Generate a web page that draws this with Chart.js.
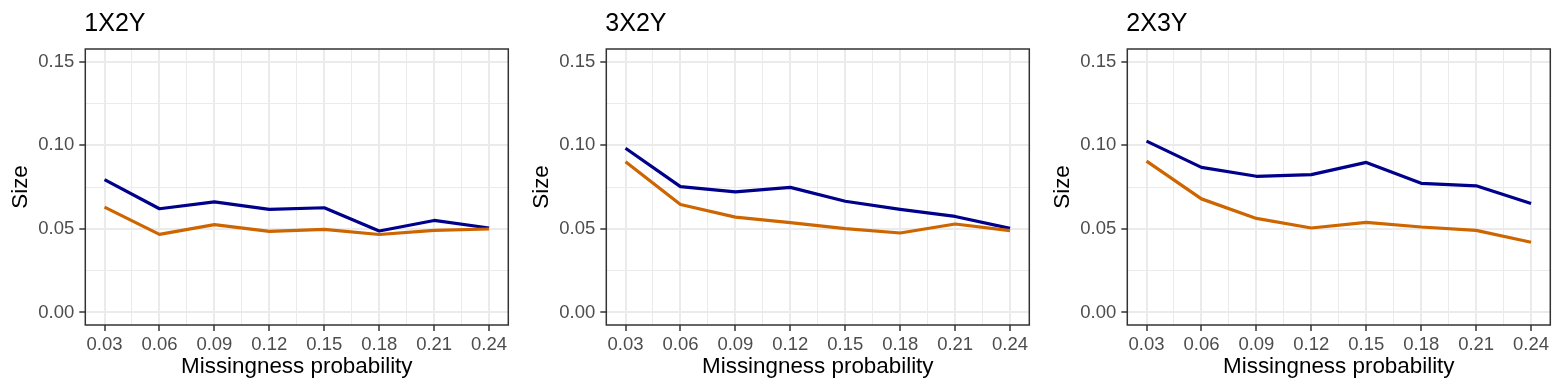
<!DOCTYPE html>
<html>
<head>
<meta charset="utf-8">
<script src="https://cdn.jsdelivr.net/npm/chart.js@4.4.1/dist/chart.umd.min.js"></script>
<style>
  body { margin: 0; background: #fff; width: 1563px; height: 392px; overflow: hidden; position: relative; }
  canvas.panel { position: absolute; top: 0; }
</style>
</head>
<body>
<canvas id="panel1" class="panel" width="521" height="392" style="left:0px"></canvas>
<canvas id="panel2" class="panel" width="521" height="392" style="left:521px"></canvas>
<canvas id="panel3" class="panel" width="521" height="392" style="left:1042px"></canvas>
<script>
const probs = [0.03, 0.06, 0.09, 0.12, 0.15, 0.18, 0.21, 0.24];
const xMinorTicks = [0.045, 0.075, 0.105, 0.135, 0.165, 0.195, 0.225];
const yMajorTicks = [0, 0.05, 0.10, 0.15];
const yMinorTicks = [0.025, 0.075, 0.125];
const panelTitles = ['1X2Y', '3X2Y', '2X3Y'];

// blue line (upper) per panel
const blue1X2Y = [0.0794, 0.0620, 0.0661, 0.0616, 0.0626, 0.0487, 0.0550, 0.0505];
const blue3X2Y = [0.0982, 0.0752, 0.0721, 0.0748, 0.0665, 0.0616, 0.0574, 0.0503];
const blue2X3Y = [0.1024, 0.0867, 0.0814, 0.0824, 0.0897, 0.0772, 0.0757, 0.0651];
// orange line (lower) per panel
const orange1X2Y = [0.0630, 0.0467, 0.0525, 0.0485, 0.0497, 0.0466, 0.0491, 0.0499];
const orange3X2Y = [0.0901, 0.0645, 0.0570, 0.0537, 0.0501, 0.0475, 0.0529, 0.0489];
const orange2X3Y = [0.0905, 0.0679, 0.0562, 0.0505, 0.0539, 0.0511, 0.0491, 0.0420];

const BLUE = '#00008B';
const ORANGE = '#CD6600';
const FONT = '"Liberation Sans", Arial, Helvetica, sans-serif';

function makeTicks(major, minor) {
  return major.map(v => ({ value: v, isMinor: false }))
    .concat(minor.map(v => ({ value: v, isMinor: true })))
    .sort((a, b) => a.value - b.value);
}

const isMinor = c => !!(c.tick && c.tick.isMinor);

const gridOpts = {
  color: '#EBEBEB',
  lineWidth: c => isMinor(c) ? 1 : 2,
  tickColor: c => isMinor(c) ? 'rgba(0,0,0,0)' : '#333333',
  tickWidth: c => isMinor(c) ? 0 : 1.5,
  tickLength: 6
};

const panelDecor = {
  id: 'panelDecor',
  afterDraw(chart, args, opts) {
    const { ctx, chartArea } = chart;
    ctx.save();
    ctx.strokeStyle = '#333333';
    ctx.lineWidth = 1.5;
    ctx.strokeRect(chartArea.left, chartArea.top, chartArea.right - chartArea.left, chartArea.bottom - chartArea.top);
    ctx.fillStyle = '#000';
    ctx.font = '25px ' + FONT;
    ctx.textBaseline = 'alphabetic';
    ctx.fillText(opts.text, chartArea.left - 1, 31);
    ctx.restore();
  }
};

function drawPanel(id, title, blue, orange) {
  const toPoints = arr => arr.map((v, i) => ({ x: probs[i], y: v }));
  new Chart(document.getElementById(id), {
    type: 'line',
    data: {
      datasets: [
        { label: 'orange', data: toPoints(orange), borderColor: ORANGE, borderWidth: 3.2 },
        { label: 'blue', data: toPoints(blue), borderColor: BLUE, borderWidth: 3.2 }
      ]
    },
    plugins: [panelDecor],
    options: {
      responsive: false,
      animation: false,
      elements: { point: { radius: 0 }, line: { tension: 0, borderCapStyle: 'butt', borderJoinStyle: 'round' } },
      layout: { padding: { top: 49, right: 12.7, left: 0, bottom: 0 } },
      plugins: {
        legend: { display: false },
        tooltip: { enabled: false },
        panelDecor: { text: title }
      },
      scales: {
        x: {
          type: 'linear',
          min: 0.0195,
          max: 0.2505,
          afterBuildTicks: s => { s.ticks = makeTicks(probs, xMinorTicks); },
          afterFit: s => { s.height = 67; },
          grid: gridOpts,
          border: { display: false },
          ticks: {
            autoSkip: false,
            maxRotation: 0,
            padding: 3,
            color: '#4D4D4D',
            font: { family: FONT, size: 18.5 },
            callback: (v, i, ticks) => ticks[i].isMinor ? '' : v.toFixed(2)
          },
          title: {
            display: true,
            text: 'Missingness probability',
            color: '#000',
            font: { family: FONT, size: 22.4 },
            padding: { top: 0, bottom: 12 }
          }
        },
        y: {
          min: -0.0075,
          max: 0.1575,
          afterBuildTicks: s => { s.ticks = makeTicks(yMajorTicks, yMinorTicks); },
          afterFit: s => { s.width = 85.3; },
          grid: gridOpts,
          border: { display: false },
          ticks: {
            autoSkip: false,
            padding: 5,
            color: '#4D4D4D',
            font: { family: FONT, size: 18.5 },
            callback: (v, i, ticks) => ticks[i].isMinor ? '' : v.toFixed(2)
          },
          title: {
            display: true,
            text: 'Size',
            color: '#000',
            font: { family: FONT, size: 22.4 },
            padding: { top: 7, bottom: 0 }
          }
        }
      }
    }
  });
}

drawPanel('panel1', panelTitles[0], blue1X2Y, orange1X2Y);
drawPanel('panel2', panelTitles[1], blue3X2Y, orange3X2Y);
drawPanel('panel3', panelTitles[2], blue2X3Y, orange2X3Y);
</script>
</body>
</html>
